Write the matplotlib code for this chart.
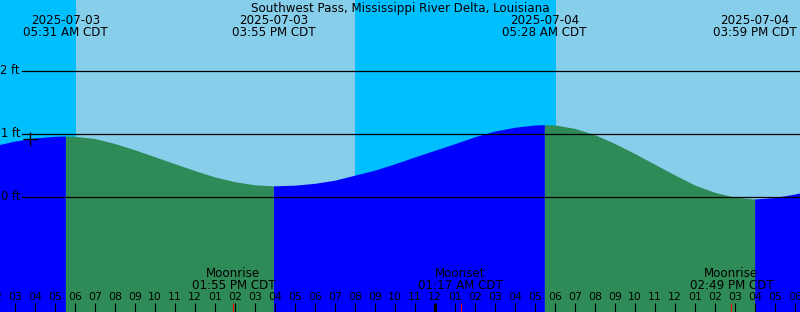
import matplotlib
matplotlib.use("Agg")
import matplotlib.pyplot as plt
import matplotlib.transforms as mtransforms
import numpy as np

# hours since 2025-07-03 00:00 CDT
hours = [2, 3, 4, 5, 5.52, 6, 7, 8, 9, 10, 11, 12, 13, 14, 15, 15.92,
         16, 17, 18, 19, 20, 21, 22, 23, 24, 25, 26, 27, 28, 29, 29.47,
         30, 31, 32, 33, 34, 35, 36, 37, 38, 39, 39.98, 41, 42, 43]
tide_ft = [0.81, 0.88, 0.93, 0.955, 0.96, 0.955, 0.92, 0.84, 0.74, 0.63, 0.52, 0.41, 0.31, 0.235, 0.185, 0.17,
           0.17, 0.18, 0.21, 0.26, 0.34, 0.42, 0.52, 0.63, 0.735, 0.84, 0.95, 1.04, 1.10, 1.135, 1.14,
           1.135, 1.08, 0.98, 0.84, 0.68, 0.51, 0.34, 0.18, 0.065, -0.01, -0.04, -0.015, 0.04, 0.12]

# high / low tides
tide_times = [5.52, 15.92, 29.47, 39.98]
tide_dates = ["2025-07-03", "2025-07-03", "2025-07-04", "2025-07-04"]
tide_clock = ["05:31 AM CDT", "03:55 PM CDT", "05:28 AM CDT", "03:59 PM CDT"]

# sunrise / sunset
sun_times = [6.05, 20.0, 30.05]

# moon events
moon_times = [13.92, 25.28, 38.82]
moon_names = ["Moonrise", "Moonset", "Moonrise"]
moon_clock = ["01:55 PM CDT", "01:17 AM CDT", "02:49 PM CDT"]

now_time = 3.75
now_level = 0.915

y_levels = [0, 1, 2]
title = "Southwest Pass, Mississippi River Delta, Louisiana"

W, H = 800, 312
X0, X1 = 2.25, 42.25
Y0, Y1 = -1.833, 3.119
FONT = "DejaVu Sans"


def yfrac(ypix):
    return 1 - ypix / H


def main():
    fig = plt.figure(figsize=(W / 100, H / 100), dpi=100)
    ax = fig.add_axes([0, 0, 1, 1])
    ax.set_xlim(X0, X1)
    ax.set_ylim(Y0, Y1)
    ax.axis("off")
    trans = mtransforms.blended_transform_factory(ax.transData, ax.transAxes)

    # sky: night / day
    edges = [X0 - 1] + sun_times + [X1 + 1]
    for i in range(len(edges) - 1):
        col = "#00BFFF" if i % 2 == 0 else "#87CEEB"
        ax.axvspan(edges[i], edges[i + 1], color=col, lw=0, zorder=0)

    # water: rising blue, falling seagreen
    t = np.array(hours)
    v = np.array(tide_ft)
    bounds = [t[0]] + tide_times + [t[-1]]
    for i in range(len(bounds) - 1):
        col = "#0000FF" if i % 2 == 0 else "#2E8B57"
        m = (t >= bounds[i]) & (t <= bounds[i + 1])
        ax.fill_between(t[m], Y0 - 1, v[m], color=col, lw=0, zorder=1)

    # level lines
    for lv in y_levels:
        ax.axhline(lv, xmin=22 / W, xmax=1, color="black", lw=0.9, zorder=3)
        ax.text(20, H - (196.5 - 63 * lv), "%d ft" % lv, transform=None,
                ha="right", va="center", fontsize=8.3, family=FONT, zorder=4)

    ax.plot([now_time], [now_level], marker="+", ms=10, mew=1, color="black", zorder=4)

    ax.text(0.5, yfrac(8.5), title, transform=ax.transAxes, ha="center", va="center",
            fontsize=8.6, family=FONT)
    for tt, d, c in zip(tide_times, tide_dates, tide_clock):
        ax.text(tt, yfrac(20), d, transform=trans, ha="center", va="center", fontsize=8.6, family=FONT)
        ax.text(tt, yfrac(32), c, transform=trans, ha="center", va="center", fontsize=8.6, family=FONT)

    for tt, n, c in zip(moon_times, moon_names, moon_clock):
        ax.text(tt, yfrac(273.5), n, transform=trans, ha="center", va="center", fontsize=8.6, family=FONT)
        ax.text(tt, yfrac(285.5), c, transform=trans, ha="center", va="center", fontsize=8.6, family=FONT)
        ax.vlines(tt, yfrac(312), yfrac(303), transform=trans, color="red", lw=0.8, zorder=5)

    # hour ticks
    for h in range(2, 44):
        hh = h % 12
        if hh == 0:
            hh = 12
        ax.text(h, yfrac(297.5), "%02d" % hh, transform=trans, ha="center", va="center",
                fontsize=7.8, family=FONT)
        lw = 2.2 if h % 24 == 0 else 0.8
        ax.vlines(h, yfrac(312), yfrac(303), transform=trans, color="black", lw=lw, zorder=4)

    fig.savefig("out.png", dpi=100)


if __name__ == "__main__":
    main()
